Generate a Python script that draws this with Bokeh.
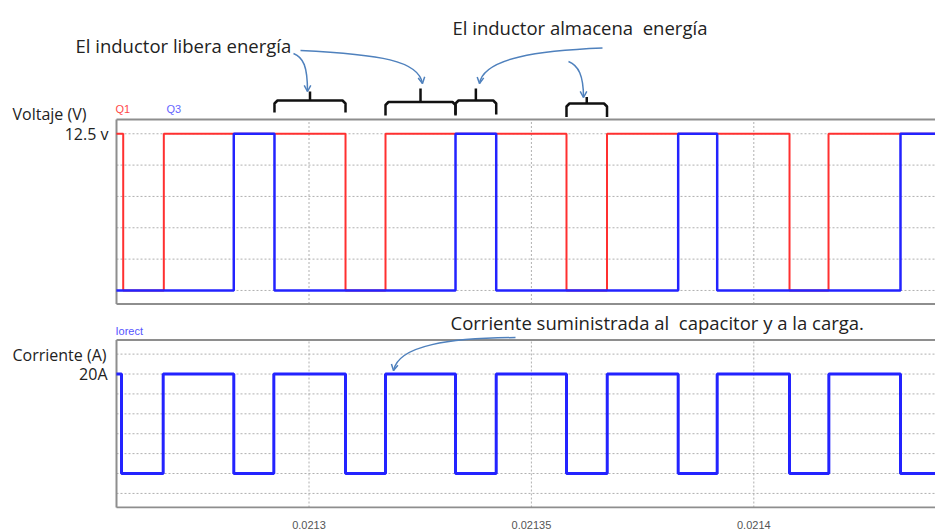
import math
from bokeh.plotting import figure
from bokeh.models import Range1d, FixedTicker, Label
from bokeh.layouts import column
from bokeh.embed import file_html
from bokeh.resources import INLINE

# ---------------- data ----------------
# Q1 gate signal (red): step breakpoints, seconds / volts
q1_t = [0.0212567, 0.02125823, 0.02126736, 0.02130821, 0.02131720,
        0.02135789, 0.02136700, 0.02140803, 0.02141680, 0.0214408]
q1_v = [12.5, 0, 12.5, 0, 12.5, 0, 12.5, 0, 12.5, 12.5]

# Q3 gate signal (blue)
q3_t = [0.0212567, 0.02128309, 0.02129224, 0.02133294, 0.02134209,
        0.02138300, 0.02139177, 0.02143298, 0.0214408]
q3_v = [0, 12.5, 0, 12.5, 0, 12.5, 0, 12.5, 12.5]

# Iorect current (blue), amperes
iorect_t = [0.0212567, 0.02125785, 0.02126722, 0.02128309, 0.02129209,
            0.02130821, 0.02131720, 0.02133294, 0.02134209, 0.02135789,
            0.02136705, 0.02138300, 0.02139177, 0.02140803, 0.02141687,
            0.02143298, 0.0214408]
iorect_v = [20, 0, 20, 0, 20, 0, 20, 0, 20, 0, 20, 0, 20, 0, 20, 0, 0]

x_ticks = [0.0213, 0.02135, 0.0214]
x_tick_labels = ["0.0213", "0.02135", "0.0214"]
v_grid = [0, 2.5, 5, 7.5, 10, 12.5]
v_ticks = [12.5]
v_tick_labels = ["12.5 v"]
i_grid = [-4, 0, 4, 8, 12, 16, 20, 24]
i_ticks = [20]
i_tick_labels = ["20A"]

# ---------------- layout (reference pixel geometry) ----------------
W = 935
PX_T, T_REF, PX_PER_S = 308.5, 0.0213, 4.448e6


def t_of(px):
    return T_REF + (px - PX_T) / PX_PER_S


def px_of(t):
    return PX_T + (t - T_REF) * PX_PER_S


X_RANGE = (t_of(0), t_of(W))
BOX_LEFT = t_of(116)

A_PX = (0, 306)           # rows of the top frame
A_RANGE = (-1.28, 23.13)
A_BOX = (-1.08, 13.64)
B_PX = (307, 511)         # rows of the bottom frame
B_RANGE = (-7.03, 33.37)
B_BOX = (-6.83, 26.83)


def make_conv(px_rows, rng):
    top, bot = px_rows
    k = (rng[1] - rng[0]) / (bot - top)
    return lambda py: rng[1] - (py - top) * k


va = make_conv(A_PX, A_RANGE)
ib = make_conv(B_PX, B_RANGE)

FONT = "Open Sans"
GRID = "#b0b0b0"
BORDER = "#8e8e8e"
RED = "#ff3030"
BLUE = "#2323ff"
ARROW = "#4f81bd"
TEXT = "#222222"


def base_fig(height, y_range, mb_bottom, x_axis):
    p = figure(width=W, height=height, x_range=Range1d(*X_RANGE),
               y_range=Range1d(*y_range), output_backend="svg",
               toolbar_location=None, min_border_left=0,
               min_border_right=0, min_border_top=0,
               min_border_bottom=mb_bottom,
               x_axis_location="below" if x_axis else None,
               y_axis_location=None)
    p.outline_line_color = None
    p.background_fill_color = "white"
    p.border_fill_color = "white"
    p.grid.visible = False
    return p


def box(p, lo, hi, grid_vals):
    # dotted grid inside the box
    n = len(x_ticks)
    p.segment(x0=x_ticks, y0=[lo] * n, x1=x_ticks, y1=[hi] * n,
              line_color=GRID, line_dash="2 2", line_width=1)
    m = len(grid_vals)
    p.segment(x0=[BOX_LEFT] * m, y0=grid_vals, x1=[X_RANGE[1]] * m,
              y1=grid_vals, line_color=GRID, line_dash="2 2", line_width=1)
    # frame of the box (right side lies beyond the window)
    p.segment(x0=[BOX_LEFT, BOX_LEFT, BOX_LEFT], y0=[hi, lo, lo],
              x1=[X_RANGE[1], X_RANGE[1], BOX_LEFT], y1=[hi, lo, hi],
              line_color=BORDER, line_width=2)


def label(p, s, px, py, conv, size, color, font=FONT, align="left",
          baseline="alphabetic"):
    p.add_layout(Label(x=t_of(px), y=conv(py), text=s, text_font=font,
                       text_font_size=size, text_color=color,
                       text_baseline=baseline, text_align=align))


def tick_label(p, s, px, val, size):
    p.add_layout(Label(x=t_of(px), y=val, text=s, text_font=FONT,
                       text_font_size=size, text_color=TEXT,
                       text_baseline="middle", text_align="right"))


def curved_arrow(p, pts, conv):
    (sx, sy), (c1x, c1y), (c2x, c2y), (ex, ey) = pts
    p.bezier(x0=[t_of(sx)], y0=[conv(sy)], x1=[t_of(ex)], y1=[conv(ey)],
             cx0=[t_of(c1x)], cy0=[conv(c1y)], cx1=[t_of(c2x)],
             cy1=[conv(c2y)], line_color=ARROW, line_width=1.5)
    dx, dy = ex - c2x, ey - c2y
    n = math.hypot(dx, dy)
    dx, dy = dx / n, dy / n
    L, a = 7.0, math.radians(28)
    hx, hy = [], []
    for sgn in (1, -1):
        ca, sa = math.cos(sgn * a), math.sin(sgn * a)
        rx = -dx * ca + dy * sa
        ry = -dx * sa - dy * ca
        hx.append(ex + L * rx)
        hy.append(ey + L * ry)
    p.multi_line(xs=[[t_of(hx[0]), t_of(ex), t_of(hx[1])]],
                 ys=[[conv(hy[0]), conv(ey), conv(hy[1])]],
                 line_color=ARROW, line_width=1.5)


def bracket(p, t0, t1, top, bot, tick, conv):
    x0, x1 = px_of(t0), px_of(t1)
    xc = (x0 + x1) / 2
    r = 3
    path = [(x0, bot), (x0, top + r), (x0 + r, top), (x1 - r, top),
            (x1, top + r), (x1, bot)]
    p.multi_line(xs=[[t_of(x) for x, _ in path], [t_of(xc), t_of(xc)]],
                 ys=[[conv(y) for _, y in path], [conv(top), conv(tick)]],
                 line_color="#111111", line_width=2.5, line_join="round")


# ---------------- top panel: gate voltages ----------------
pa = base_fig(307, A_RANGE, 1, False)
box(pa, A_BOX[0], A_BOX[1], v_grid)

pa.step(q1_t, q1_v, mode="after", line_color=RED, line_width=2)
pa.step(q3_t, q3_v, mode="after", line_color=BLUE, line_width=2.5)

for val, txt in zip(v_ticks, v_tick_labels):
    tick_label(pa, txt, 108, val, "16px")

bracket(pa, q3_t[2], q1_t[3], 100, 112, 91, va)
bracket(pa, q1_t[4], q3_t[3], 101.5, 115, 88, va)
bracket(pa, q3_t[3], q3_t[4], 100, 114, 88, va)
bracket(pa, q1_t[5], q1_t[6], 103, 116.5, 96.5, va)

curved_arrow(pa, [(293, 53), (303, 57), (307, 66), (307, 91)], va)
curved_arrow(pa, [(300, 50), (380, 54), (418, 60), (422, 83)], va)
curved_arrow(pa, [(602, 47.5), (540, 50), (483, 57), (479, 83)], va)
curved_arrow(pa, [(568, 61), (578, 65), (583, 75), (583, 97)], va)

label(pa, "El inductor almacena\u00a0 energía", 452, 27, va, "18.5px", TEXT)
label(pa, "El inductor libera energía", 75, 44.5, va, "18.5px", TEXT)
label(pa, "Voltaje (V)", 12, 113, va, "16px", TEXT)
label(pa, "Q1", 115, 108, va, "11px", "#ff4a4a", "Liberation Sans")
label(pa, "Q3", 166, 108, va, "11px", "#6666ff", "Liberation Sans")

# ---------------- bottom panel: current ----------------
pb = base_fig(224, B_RANGE, 20, True)
box(pb, B_BOX[0], B_BOX[1], i_grid)

xa = pb.xaxis[0]
xa.ticker = FixedTicker(ticks=x_ticks)
xa.major_label_overrides = dict(zip(x_ticks, x_tick_labels))
xa.major_tick_line_color = None
xa.minor_tick_line_color = None
xa.axis_line_color = None
xa.major_label_standoff = 6
xa.major_label_text_font = "Liberation Sans"
xa.major_label_text_font_size = "11px"
xa.major_label_text_color = "#555555"

pb.step(iorect_t, iorect_v, mode="after", line_color=BLUE, line_width=3)

for val, txt in zip(i_ticks, i_tick_labels):
    tick_label(pb, txt, 107, val, "16px")

curved_arrow(pb, [(515, 337.5), (450, 338), (398, 345), (393, 371)], ib)

label(pb, "Iorect", 115, 331, ib, "11px", "#5555ff", "Liberation Sans")
label(pb, "Corriente suministrada al\u00a0 capacitor y a la carga.", 450,
      322.7, ib, "18.5px", TEXT)
label(pb, "Corriente (A)", 12, 355, ib, "16px", TEXT)

layout = column(pa, pb, spacing=0)
open("out.html", "w").write(file_html(layout, INLINE))
